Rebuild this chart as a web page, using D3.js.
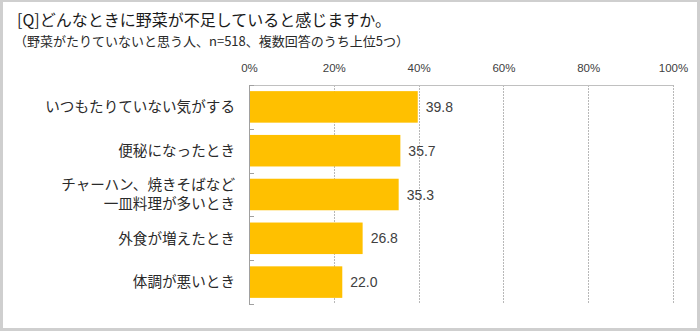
<!DOCTYPE html>
<html><head><meta charset="utf-8">
<script src="https://cdn.jsdelivr.net/npm/d3@7"></script>
<style>
html,body{margin:0;padding:0;background:#fff;}
svg{display:block;}
</style></head>
<body>
<svg id="chart" width="700" height="331"></svg>
<script>
const categories = [
  ["いつもたりていない気がする"],
  ["便秘になったとき"],
  ["チャーハン、焼きそばなど", "一皿料理が多いとき"],
  ["外食が増えたとき"],
  ["体調が悪いとき"]
];
const values = [39.8, 35.7, 35.3, 26.8, 22.0];
const tickValues = [0, 20, 40, 60, 80, 100];
const title = "[Q]どんなときに野菜が不足していると感じますか。";
const subtitle = "（野菜がたりていないと思う人、n=518、複数回答のうち上位5つ）";

(function(){
const svg = d3.select("#chart");
const font = "'Noto Sans CJK JP', 'Noto Sans', sans-serif";

// outer frame
svg.append("rect").attr("x",0).attr("y",0).attr("width",700).attr("height",331).attr("fill","#cfcfcf");
svg.append("rect").attr("x",3).attr("y",2).attr("width",694).attr("height",326).attr("fill","#fff");

const pL = 249, pR = 673, pT = 85, pB = 304;
const x = d3.scaleLinear().domain([0,100]).range([pL,pR]);
const y = d3.scaleBand().domain(d3.range(categories.length)).range([pT,pB]).paddingInner(0.28).paddingOuter(0.14);

// title
svg.append("text").attr("x",17).attr("y",26).attr("font-family",font).attr("font-size",16)
  .attr("fill","#1a1a1a").text(title);
svg.append("text").attr("x",14).attr("y",46).attr("font-family",font).attr("font-size",13)
  .attr("fill","#2a2a2a").text(subtitle);

// gridlines
svg.append("g").selectAll("line").data(tickValues.filter(d=>d>0)).join("line")
  .attr("x1",d=>Math.round(x(d))+0.5).attr("x2",d=>Math.round(x(d))+0.5).attr("y1",pT).attr("y2",pB)
  .attr("stroke","#b8b8b8").attr("stroke-width",1).attr("stroke-dasharray","2,1");
// top line
svg.append("line").attr("x1",pL).attr("x2",pR).attr("y1",pT+0.5).attr("y2",pT+0.5)
  .attr("stroke","#c0c0c0");

// x axis labels
const xAxis = d3.axisTop(x).tickValues(tickValues).tickSize(0).tickFormat(d=>d+"%");
const gx = svg.append("g").attr("transform",`translate(0,${pT-10})`).call(xAxis);
gx.select(".domain").remove();
gx.selectAll("text").attr("font-family","'Liberation Sans', Arial, sans-serif").attr("font-size",11.5)
  .attr("fill","#404040").attr("dy","0");

// bars
svg.append("g").selectAll("rect").data(values).join("rect")
  .attr("x",x(0)).attr("y",(d,i)=>y(i))
  .attr("width",d=>x(d)-x(0)).attr("height",y.bandwidth())
  .attr("fill","#FFC000");

// left axis with inside ticks at category boundaries
const bstep = (pB-pT)/categories.length;
svg.append("line").attr("x1",pL+0.5).attr("x2",pL+0.5).attr("y1",pT).attr("y2",pB)
  .attr("stroke","#a0a0a0");
svg.append("g").selectAll("line").data(d3.range(categories.length+1)).join("line")
  .attr("x1",pL).attr("x2",pL+5)
  .attr("y1",i=>Math.round(pT+i*bstep)+0.5).attr("y2",i=>Math.round(pT+i*bstep)+0.5)
  .attr("stroke","#a0a0a0");

// value labels
svg.append("g").selectAll("text").data(values).join("text")
  .attr("x",d=>x(d)+8).attr("y",(d,i)=>y(i)+y.bandwidth()/2)
  .attr("dy","0.36em").attr("font-family","'Liberation Sans', Arial, sans-serif").attr("font-size",14)
  .attr("fill","#404040").text(d=>d.toFixed(1));

// category labels
const cl = svg.append("g");
categories.forEach((lines,i)=>{
  const cy = y(i)+y.bandwidth()/2;
  const lh = 19;
  lines.forEach((t,j)=>{
    cl.append("text").attr("x",235).attr("y",cy + (j-(lines.length-1)/2)*lh)
      .attr("dy","0.36em").attr("text-anchor","end")
      .attr("font-family",font).attr("font-size",14.6).attr("fill","#2a2a2a").text(t);
  });
});
})();
</script>
</body></html>
